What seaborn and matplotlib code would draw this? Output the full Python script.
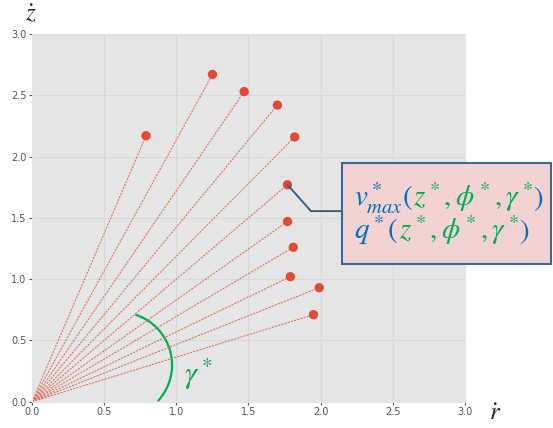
import numpy as np
import pandas as pd
import matplotlib
matplotlib.use("Agg")
import matplotlib.pyplot as plt
import matplotlib.transforms as mtransforms
from matplotlib.patches import Arc, Rectangle
import seaborn as sns

# end points of the rays (r_dot, z_dot)
r_dot = [0.79, 1.25, 1.47, 1.70, 1.82, 1.77, 1.77, 1.81, 1.79, 1.99, 1.95]
z_dot = [2.17, 2.67, 2.53, 2.42, 2.16, 1.77, 1.47, 1.26, 1.02, 0.93, 0.71]
xticks = [0.0, 0.5, 1.0, 1.5, 2.0, 2.5, 3.0]
yticks = [0.0, 0.5, 1.0, 1.5, 2.0, 2.5, 3.0]
callout_idx = 5  # the point the text box points at

red = "#E24A33"
green = "#00B050"
blue = "#0070C0"

sns.set_style("darkgrid", {
    "axes.facecolor": "#E5E5E5",
    "grid.color": "#D9D9D9",
    "axes.edgecolor": "#E5E5E5",
    "xtick.bottom": True,
    "ytick.left": True,
})
plt.rcParams["mathtext.fontset"] = "stix"

fig = plt.figure(figsize=(5.53, 4.28), dpi=100)
ax = fig.add_axes([32 / 553, 26.3 / 428, 433 / 553, 367.7 / 428])

# dashed rays from the origin
rays = pd.DataFrame({
    "ray": np.repeat(np.arange(len(r_dot)), 2),
    "r": np.ravel([[0.0, r] for r in r_dot]),
    "z": np.ravel([[0.0, z] for z in z_dot]),
})
sns.lineplot(data=rays, x="r", y="z", units="ray", estimator=None, sort=False,
             color="#E36B58", lw=0.7, ls=(0, (2.2, 1.2)), ax=ax, legend=False)

pts = pd.DataFrame({"r": r_dot, "z": z_dot})
sns.scatterplot(data=pts, x="r", y="z", color=red, s=45, edgecolor="none",
                ax=ax, zorder=3, legend=False)

ax.set_xlim(0, 3)
ax.set_ylim(0, 3)
ax.set_xticks(xticks)
ax.set_yticks(yticks)
ax.set_xlabel("")
ax.set_ylabel("")
ax.tick_params(labelsize=7, colors="#555555", length=2, width=0.8, pad=2)
ax.grid(lw=0.8)

# axis labels
fig.text(31 / 553, 1 - 14 / 428, r"$\dot{z}$", fontsize=18, ha="center", va="center")
fig.text(495 / 553, 1 - 413 / 428, r"$\dot{r}$", fontsize=18, ha="center", va="center")

# green angle arc and label
cx, cy = ax.transData.transform((0.603, 0.299))
ax.add_patch(Arc((cx, cy), 106, 106, theta1=-43, theta2=72, color=green, lw=1.6,
                 transform=mtransforms.IdentityTransform(), clip_on=False))
fig.text(198 / 553, 1 - 374 / 428, r"$\gamma^*$", fontsize=22, color=green,
         ha="center", va="center")

# connector from the point to the box
px, pz = r_dot[callout_idx], z_dot[callout_idx]
ax.plot([px, 1.933, 2.15], [pz, 1.555, 1.555], color="#3B5F82", lw=1.4,
        clip_on=False, zorder=4)

# text box
fig.patches.append(Rectangle((342 / 553, 1 - 264 / 428), 209 / 553, 101 / 428,
                             transform=fig.transFigure, facecolor="#F2D2D2",
                             edgecolor="#3B6A96", lw=1.5, zorder=5))

fig.canvas.draw()
renderer = fig.canvas.get_renderer()


def colored_line(pieces, x0, y0, size):
    trans = fig.transFigure
    for txt, col in pieces:
        t = fig.text(x0, y0, txt, color=col, fontsize=size, ha="left",
                     va="baseline", transform=trans, zorder=6)
        w = t.get_window_extent(renderer).width
        trans = mtransforms.offset_copy(trans, fig=fig, x=w, units="dots")


colored_line([(r"$v^*_{max}($", blue), (r"$z^*,\phi^*,\gamma^*$", green), (r"$)$", blue)],
             354 / 553, 1 - 206 / 428, 21)
colored_line([(r"$q^*($", blue), (r"$z^*,\phi^*,\gamma^*$", green), (r"$)$", blue)],
             354 / 553, 1 - 239 / 428, 21)

fig.savefig("out.png", dpi=100)
